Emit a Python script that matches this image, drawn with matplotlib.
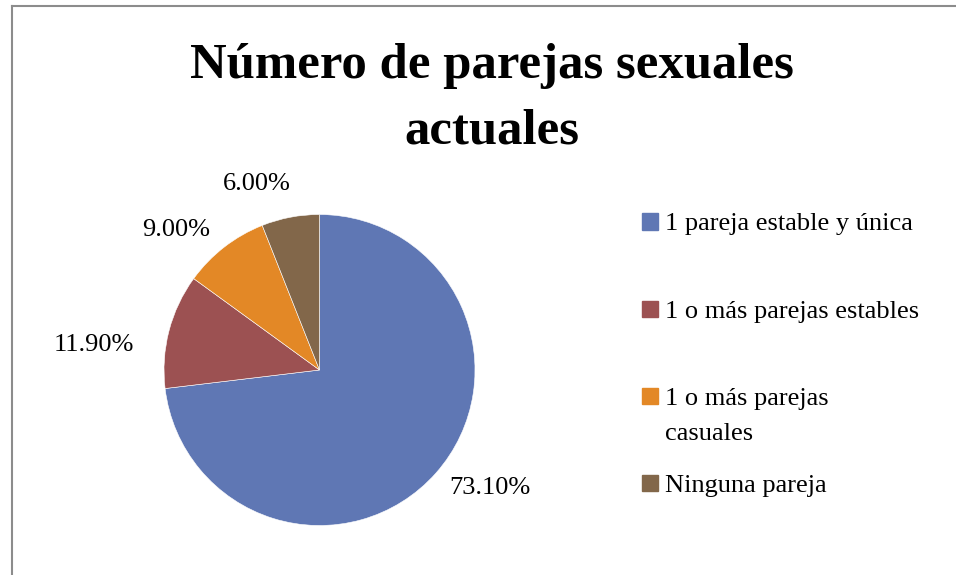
import numpy as np
import matplotlib.pyplot as plt
from matplotlib.lines import Line2D
from matplotlib.patches import Rectangle

# Data
categories = ['1 pareja estable y única', '1 o más parejas estables',
              '1 o más parejas casuales', 'Ninguna pareja']
legend_labels = ['1 pareja estable y única', '1 o más parejas estables',
                 '1 o más parejas\ncasuales', 'Ninguna pareja']
percentages = [73.1, 11.9, 9.0, 6.0]
colors = ['#5F77B4', '#9C5152', '#E38826', '#82674A']

title = 'Número de parejas sexuales\nactuales'

W, H = 956, 575
plt.rcParams['font.family'] = ['Liberation Serif', 'DejaVu Serif']

fig = plt.figure(figsize=(W / 100, H / 100), dpi=100)

# Pie axes: centre (319.5, 370) px, radius 155.5 px
cx, cy, r = 319.5, 370, 155.5
ax = fig.add_axes([(cx - r) / W, (H - cy - r) / H, 2 * r / W, 2 * r / H])
wedges, texts, autotexts = ax.pie(percentages, colors=colors, startangle=90,
                                  counterclock=False, autopct='%.2f%%',
                                  pctdistance=1.32, radius=1,
                                  wedgeprops=dict(edgecolor='white', linewidth=0.4))
ax.set_xlim(-1, 1)
ax.set_ylim(-1, 1)
ax.set_aspect('equal')
ax.axis('off')

for t in autotexts:
    t.set_fontsize(19)
    t.set_color('black')
    t.set_va('center_baseline')

# Excel "best fit" style: label box kept a fixed gap outside the pie,
# slightly counter-clockwise of the wedge middle
fig.canvas.draw()
inv = ax.transData.inverted()
for w, t in zip(wedges, autotexts):
    bb = t.get_window_extent().transformed(inv)
    hw, hh = bb.width / 2, bb.height / 2
    ang = np.deg2rad((w.theta1 + w.theta2) / 2 + 7.5)
    c, s = np.cos(ang), np.sin(ang)
    d = 1.2 + min(hw / max(abs(c), 1e-6), hh / max(abs(s), 1e-6))
    t.set_position((d * c, d * s))

# Title
fig.text(492 / W, 1 - 98.5 / H, title, ha='center', va='center', fontsize=36.5,
         fontweight='bold', linespacing=1.55)

# Legend (Excel style: fixed row slots, wrapped label overflows downward)
leg_x = 642
leg_y0 = 221.5
leg_step = 87.3
sq = 16
for i, (lab, col) in enumerate(zip(legend_labels, colors)):
    y = leg_y0 + i * leg_step
    fig.patches.append(Rectangle((leg_x / W, 1 - (y + sq / 2) / H), sq / W, sq / H,
                                 transform=fig.transFigure, color=col))
    fig.text((leg_x + sq + 7) / W, 1 - (y - 8) / H, lab, ha='left', va='top',
             fontsize=19, linespacing=1.75)

# Chart border (top and left visible)
border = dict(color='#8C8C8C', linewidth=1.5, transform=fig.transFigure)
fig.lines.append(Line2D([11.5 / W, 1], [1 - 5.5 / H, 1 - 5.5 / H], **border))
fig.lines.append(Line2D([11.5 / W, 11.5 / W], [0, 1 - 5.5 / H], **border))

fig.savefig('out.png', dpi=100)
